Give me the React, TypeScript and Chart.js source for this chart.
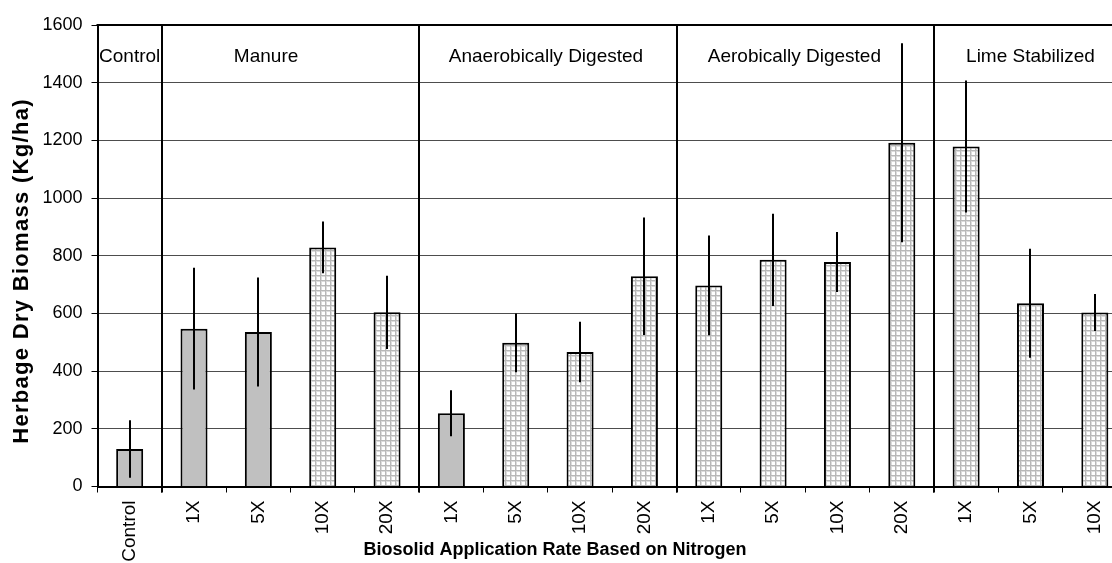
import React, { useEffect, useRef } from "react";
import { Chart, registerables } from "chart.js";

Chart.register(...registerables);

// ---- data ----
const categories = ["Control", "1X", "5X", "10X", "20X", "1X", "5X", "10X", "20X", "1X", "5X", "10X", "20X", "1X", "5X", "10X"];
const biomass = [130, 547, 536, 829, 604, 254, 498, 466, 729, 697, 786, 778, 1192, 1179, 635, 603];
const errors = [100, 211, 189, 90, 127, 80, 102, 105, 204, 173, 160, 104, 345, 229, 189, 64];
const fillTypes = ["solid", "solid", "solid", "hatch", "hatch", "solid", "hatch", "hatch", "hatch", "hatch", "hatch", "hatch", "hatch", "hatch", "hatch", "hatch"];
const groupNames = ["Control", "Manure", "Anaerobically Digested", "Aerobically Digested", "Lime Stabilized"];
const groupStarts = [0, 1, 5, 9, 13];
const groupLabelAt = [0, 2.12, 6.47, 10.33, 14.0];
const yTicks = [0, 200, 400, 600, 800, 1000, 1200, 1400, 1600];

const FONT = "'Liberation Sans', Arial, Helvetica, sans-serif";
const CW = 1140;
const CH = 563;

export default function App() {
  const ref = useRef<HTMLCanvasElement | null>(null);

  useEffect(() => {
    const canvas = ref.current;
    if (!canvas) return;
    const ctx = canvas.getContext("2d")!;

    const tile = document.createElement("canvas");
    tile.width = 5;
    tile.height = 5;
    const t = tile.getContext("2d")!;
    t.fillStyle = "#ffffff";
    t.fillRect(0, 0, 5, 5);
    t.fillStyle = "#dcdcdc";
    t.fillRect(0, 1, 5, 1);
    t.fillRect(1, 0, 1, 5);
    t.fillStyle = "#b8b8b8";
    t.fillRect(0, 0, 5, 1);
    t.fillRect(0, 0, 1, 5);
    const hatch = ctx.createPattern(tile, "repeat")!;

    const decor = {
      id: "decor",
      afterDatasetsDraw(chart: any) {
        const c = chart.ctx;
        const xs = chart.scales.x;
        const ys = chart.scales.y;
        const area = chart.chartArea;
        c.save();
        // error bars
        c.strokeStyle = "#000";
        c.lineWidth = 2;
        biomass.forEach((v, i) => {
          const x = Math.round(xs.getPixelForValue(i));
          c.beginPath();
          c.moveTo(x, ys.getPixelForValue(v + errors[i]));
          c.lineTo(x, ys.getPixelForValue(Math.max(0, v - errors[i])));
          c.stroke();
        });
        // top border
        c.beginPath();
        c.moveTo(area.left - 1, area.top);
        c.lineTo(area.right, area.top);
        c.stroke();
        // group separators
        groupStarts.forEach((s) => {
          if (s === 0) return;
          const x = Math.round((xs.getPixelForValue(s - 1) + xs.getPixelForValue(s)) / 2);
          c.beginPath();
          c.moveTo(x, area.top);
          c.lineTo(x, area.bottom + 6);
          c.stroke();
        });
        // group labels
        c.fillStyle = "#000";
        c.font = `19px ${FONT}`;
        c.textAlign = "center";
        c.textBaseline = "alphabetic";
        groupNames.forEach((g, i) => {
          c.fillText(g, xs.getPixelForValue(groupLabelAt[i]), area.top + 37);
        });
        // axis titles
        c.font = `bold 18px ${FONT}`;
        c.fillText("Biosolid Application Rate Based on Nitrogen", 555, 555);
        c.save();
        c.translate(28, 271);
        c.rotate(-Math.PI / 2);
        c.font = `bold 22px ${FONT}`;
        (c as any).letterSpacing = "1.3px";
        c.fillText("Herbage Dry Biomass (Kg/ha)", 0, 0);
        c.restore();
        c.restore();
      },
    };

    const chart = new Chart(ctx, {
      type: "bar",
      data: {
        labels: categories,
        datasets: [
          {
            data: biomass,
            backgroundColor: fillTypes.map((f) => (f === "solid" ? "#c0c0c0" : hatch)),
            borderColor: "#000",
            borderWidth: 2,
            borderSkipped: "bottom",
            barPercentage: 0.42,
            categoryPercentage: 1,
          },
        ],
      },
      options: {
        responsive: false,
        animation: false,
        devicePixelRatio: 1,
        layout: { padding: { top: 25, right: 13, left: 0, bottom: 0 } },
        plugins: { legend: { display: false }, tooltip: { enabled: false } },
        scales: {
          x: {
            offset: true,
            grid: {
              display: true,
              offset: true,
              drawOnChartArea: false,
              drawTicks: true,
              tickLength: 6,
              color: "#000",
              lineWidth: 1,
            },
            border: { display: true, color: "#000", width: 2 },
            ticks: {
              autoSkip: false,
              minRotation: 90,
              maxRotation: 90,
              padding: 8,
              color: "#000",
              font: { family: FONT, size: 19 },
            },
            afterFit: (s: any) => {
              s.height = CH - 486.5;
            },
          },
          y: {
            min: 0,
            max: 1600,
            afterBuildTicks: (s: any) => {
              s.ticks = yTicks.map((v) => ({ value: v }));
            },
            ticks: {
              padding: 9,
              color: "#000",
              font: { family: FONT, size: 18 },
              callback: (v: any) => String(v),
            },
            grid: { color: "#4d4d4d", lineWidth: 1, tickLength: 6, tickColor: "#000" },
            border: { display: true, color: "#000", width: 2 },
            afterFit: (s: any) => {
              s.width = 97.5;
            },
          },
        },
      },
      plugins: [decor],
    });
    return () => chart.destroy();
  }, []);

  return (
    <div
      style={{
        position: "fixed",
        left: 0,
        top: 0,
        width: 1112,
        height: 563,
        overflow: "hidden",
        background: "#fff",
      }}
    >
      <canvas ref={ref} width={CW} height={CH} style={{ display: "block", width: CW, height: CH }} />
    </div>
  );
}
